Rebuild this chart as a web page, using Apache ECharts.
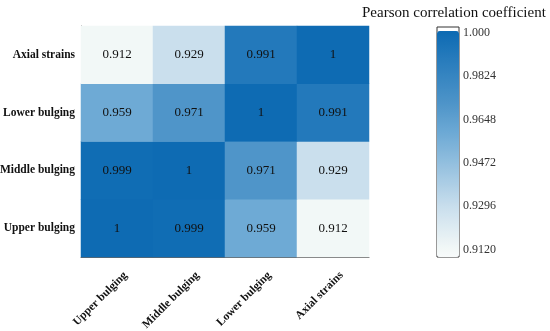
<!DOCTYPE html>
<html>
<head>
<meta charset="utf-8">
<script src="https://cdn.jsdelivr.net/npm/echarts@6/dist/echarts.min.js"></script>
<style>html,body{margin:0;padding:0;background:#fff;}#c{width:550px;height:331px;}</style>
</head>
<body>
<div id="c"></div>
<script>
var xCategories = ['Upper bulging', 'Middle bulging', 'Lower bulging', 'Axial strains'];
var yCategories = ['Upper bulging', 'Middle bulging', 'Lower bulging', 'Axial strains'];
// rows from bottom (Upper bulging) to top (Axial strains)
var rowUpper  = [1, 0.999, 0.959, 0.912];
var rowMiddle = [0.999, 1, 0.971, 0.929];
var rowLower  = [0.959, 0.971, 1, 0.991];
var rowAxial  = [0.912, 0.929, 0.991, 1];
var colorbarTicks = [0.912, 0.9296, 0.9472, 0.9648, 0.9824, 1.0];

var rows = [rowUpper, rowMiddle, rowLower, rowAxial];
var data = [];
rows.forEach(function (r, yi) { r.forEach(function (v, xi) { data.push([xi, yi, v]); }); });

var vMin = 0.909, vMax = 1.0008;
var anchors = [[0.909,'#f8fbfb'],[0.912,'#f3f8f7'],[0.929,'#cadfed'],[0.959,'#6eaad5'],[0.971,'#4f95c9'],[0.991,'#2379bb'],[1.0,'#0e6bb3'],[1.0008,'#0e6bb3']];
function hex(c){return [parseInt(c.substr(1,2),16),parseInt(c.substr(3,2),16),parseInt(c.substr(5,2),16)];}
var palette = [];
var N = 200;
for (var i = 0; i <= N; i++) {
  var v = vMin + (vMax - vMin) * i / N;
  var k = 0;
  while (k < anchors.length - 2 && v > anchors[k + 1][0]) k++;
  var a = anchors[k], b = anchors[k + 1];
  var t = Math.max(0, Math.min(1, (v - a[0]) / (b[0] - a[0])));
  var ca = hex(a[1]), cb = hex(b[1]);
  palette.push('rgb(' + ca.map(function (x, j) { return Math.round(x + (cb[j] - x) * t); }).join(',') + ')');
}

var serif = 'Liberation Serif, Times New Roman, serif';
var chart = echarts.init(document.getElementById('c'), null, {renderer: 'canvas'});
chart.setOption({
  animation: false,
  title: {
    text: 'Pearson correlation coefficient',
    left: 357, top: 1,
    textStyle: {fontFamily: serif, fontSize: 15, fontWeight: 'normal', color: '#111'}
  },
  grid: [
    {left: 81, top: 26, width: 288, height: 231, outerBoundsMode: 'none', containLabel: false},
    {left: 437, top: 27, width: 22, height: 230, show: true, borderColor: '#333', borderWidth: 1, backgroundColor: '#fff', z: 0, outerBoundsMode: 'none', containLabel: false}
  ],
  xAxis: [
    {
      type: 'category', data: xCategories, gridIndex: 0,
      axisLine: {lineStyle: {color: '#666'}},
      axisTick: {alignWithLabel: true, length: 4, lineStyle: {color: '#666'}},
      axisLabel: {rotate: 45, margin: 8, verticalAlign: 'top', lineHeight: 24, fontFamily: serif, fontSize: 11.5, fontWeight: 'bold', color: '#111'},
      splitLine: {show: false}
    },
    {type: 'value', gridIndex: 1, show: false, min: 0, max: 1}
  ],
  yAxis: [
    {
      type: 'category', data: yCategories, gridIndex: 0,
      axisLine: {lineStyle: {color: '#666'}},
      axisTick: {alignWithLabel: true, length: 4, lineStyle: {color: '#666'}},
      axisLabel: {margin: 6, fontFamily: serif, fontSize: 11.5, fontWeight: 'bold', color: '#111'},
      splitLine: {show: false}
    },
    {
      type: 'value', gridIndex: 1, position: 'right',
      min: 0.90895, max: 1.00244,
      axisLine: {show: false},
      axisTick: {show: true, length: 4, inside: false, customValues: colorbarTicks, lineStyle: {color: '#333'}},
      axisLabel: {
        margin: 4, fontFamily: serif, fontSize: 12, color: '#333', customValues: colorbarTicks,
        formatter: function (v) { return Math.abs(v - 1) < 1e-9 ? '1.000' : v.toFixed(4); }
      },
      splitLine: {show: false}
    }
  ],
  visualMap: {
    type: 'continuous', min: vMin, max: vMax, calculable: false,
    seriesIndex: 0, orient: 'vertical',
    left: 437, top: 31, itemWidth: 22, itemHeight: 226, padding: 0,
    text: ['', ''], showLabel: false, hoverLink: false,
    inRange: {color: palette}
  },
  series: [{
    type: 'heatmap', xAxisIndex: 0, yAxisIndex: 0, data: data,
    label: {
      show: true, fontFamily: serif, fontSize: 13, color: '#111',
      formatter: function (p) { return String(p.value[2]); }
    },
    itemStyle: {borderWidth: 0},
    emphasis: {disabled: true}
  }]
});
</script>
</body>
</html>
